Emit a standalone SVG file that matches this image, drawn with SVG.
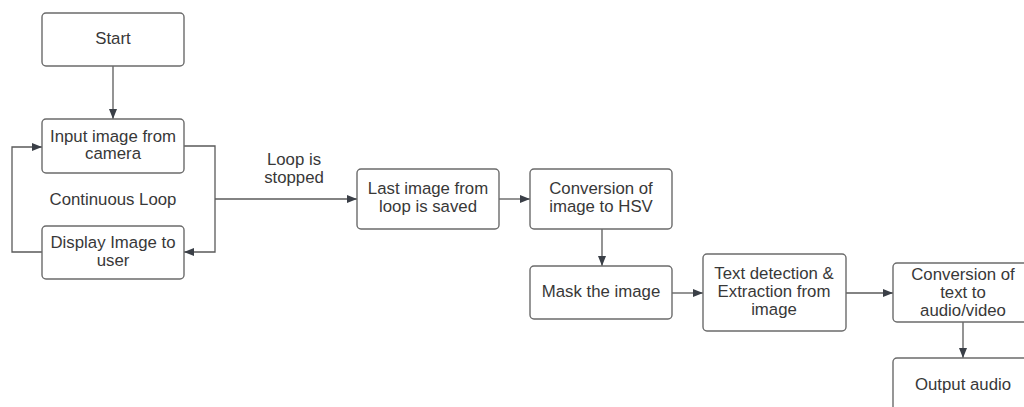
<svg xmlns="http://www.w3.org/2000/svg" width="1024" height="407" viewBox="0 0 1024 407">
  <style>
    .box { fill: #ffffff; stroke: #6b6b6b; stroke-width: 1.4; }
    .lbl { font-family: "Liberation Sans", Arial, sans-serif; font-size: 16.8px; fill: #383838; text-anchor: middle; }
    .edge { fill: none; stroke: #5a5a5a; stroke-width: 1.3; }
  </style>
  <defs>
    <marker id="arrow" viewBox="0 0 10 10" refX="10" refY="5" markerWidth="10" markerHeight="10" markerUnits="userSpaceOnUse" orient="auto">
      <path d="M0,1 L10,5 L0,9 Z" fill="#3a3f47"/>
    </marker>
  </defs>
  <rect width="1024" height="407" fill="#ffffff"/>

  <g id="connectors">
    <path class="edge" d="M113,66 V119" marker-end="url(#arrow)"/>
    <path class="edge" d="M42,252 H12 V147 H42" marker-end="url(#arrow)"/>
    <path class="edge" d="M184,146 H215 V252 H184" marker-end="url(#arrow)"/>
    <path class="edge" d="M215,199 H357" marker-end="url(#arrow)"/>
    <path class="edge" d="M499,199 H530" marker-end="url(#arrow)"/>
    <path class="edge" d="M602,229 V266" marker-end="url(#arrow)"/>
    <path class="edge" d="M672,293 H703" marker-end="url(#arrow)"/>
    <path class="edge" d="M846,293 H893" marker-end="url(#arrow)"/>
    <path class="edge" d="M963,322 V358" marker-end="url(#arrow)"/>
  </g>

  <g id="loop-labels">
    <text class="lbl" x="294" y="165">Loop is</text>
    <text class="lbl" x="294" y="183">stopped</text>
    <text class="lbl" x="113" y="205">Continuous Loop</text>
  </g>

  <g id="start">
    <rect class="box" x="42" y="13" width="142" height="53" rx="4"/>
    <text class="lbl" x="113" y="44">Start</text>
  </g>
  <g id="input">
    <rect class="box" x="42" y="119" width="142" height="54" rx="4"/>
    <text class="lbl" x="113" y="142">Input image from</text>
    <text class="lbl" x="113" y="159">camera</text>
  </g>
  <g id="display">
    <rect class="box" x="42" y="226" width="142" height="53" rx="4"/>
    <text class="lbl" x="113" y="248">Display Image to</text>
    <text class="lbl" x="113" y="266">user</text>
  </g>
  <g id="last-image">
    <rect class="box" x="357" y="169" width="142" height="60" rx="4"/>
    <text class="lbl" x="428" y="194">Last image from</text>
    <text class="lbl" x="428" y="212">loop is saved</text>
  </g>
  <g id="hsv">
    <rect class="box" x="530" y="169" width="142" height="60" rx="4"/>
    <text class="lbl" x="601" y="194">Conversion of</text>
    <text class="lbl" x="601" y="212">image to HSV</text>
  </g>
  <g id="mask">
    <rect class="box" x="530" y="266" width="142" height="53" rx="4"/>
    <text class="lbl" x="601" y="297">Mask the image</text>
  </g>
  <g id="text-detection">
    <rect class="box" x="703" y="254" width="143" height="77" rx="4"/>
    <text class="lbl" x="774" y="279">Text detection &amp;</text>
    <text class="lbl" x="774" y="297">Extraction from</text>
    <text class="lbl" x="774" y="315">image</text>
  </g>
  <g id="text-to-av">
    <rect class="box" x="893" y="263" width="142" height="59" rx="4"/>
    <text class="lbl" x="963" y="280">Conversion of</text>
    <text class="lbl" x="963" y="298">text to</text>
    <text class="lbl" x="963" y="316">audio/video</text>
  </g>
  <g id="output">
    <rect class="box" x="893" y="358" width="142" height="60" rx="4"/>
    <text class="lbl" x="963" y="390">Output audio</text>
  </g>
</svg>
